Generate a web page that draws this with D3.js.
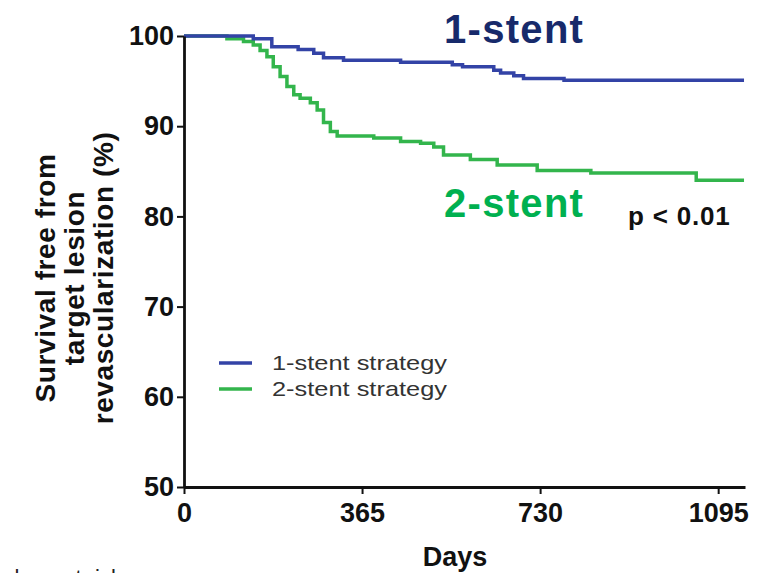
<!DOCTYPE html>
<html>
<head>
<meta charset="utf-8">
<script src="https://cdn.jsdelivr.net/npm/d3@7"></script>
<style>
	body { margin:0; background:#fff; }
	svg text { font-family: "Liberation Sans", Arial, sans-serif; }
	.tickLab { font-size:27px; font-weight:bold; fill:#111; }
</style>
</head>
<body>
<div id="chart_KM"></div>
<script>

// Kaplan-Meier steps
var daysOne = [0, 142, 180, 234, 266, 286, 327, 444, 550, 571, 635, 649, 676, 696, 779, 1148];
var survOne = [100, 99.7, 98.8, 98.5, 98.1, 97.6, 97.3, 97.1, 96.8, 96.6, 96.2, 95.9, 95.6, 95.3, 95.1, 95.1];

var daysTwo = [0, 88, 122, 142, 156, 170, 183, 197, 211, 225, 238, 259, 273, 286, 300, 314, 389, 444, 485, 512, 532, 587, 642, 724, 834, 1050, 1148];
var survTwo = [100, 99.7, 99.4, 99.0, 98.4, 97.7, 96.6, 95.5, 94.4, 93.5, 93.1, 92.6, 91.8, 90.4, 89.4, 88.9, 88.7, 88.3, 88.1, 87.7, 86.8, 86.3, 85.7, 85.1, 84.8, 84.0, 84.0];

var xTicks = [0, 365, 730, 1095];
var yTicks = [50, 60, 70, 80, 90, 100];
var seriesNames = ["1-stent strategy", "2-stent strategy"];

var overallwidth = 761, overallheight = 573;
var oneColor = "#3343a6", twoColor = "#33b54c";

var xKM = d3.scaleLinear().domain([0, 1150]).range([184, 745]);
var yKM = d3.scaleLinear().domain([50, 100]).range([487, 36]);

var svg = d3.select("#chart_KM")
	.append("svg")
	.attr("width", overallwidth)
	.attr("height", overallheight)
	.append("g")
	.attr("class", "compChart");

function toPoints(days, surv){
	return days.map(function(d, i){ return {day: d, value: surv[i]}; });
}

var line = d3.line()
	.curve(d3.curveStepAfter)
	.x(function(d){ return xKM(d.day); })
	.y(function(d){ return yKM(d.value); });

// curves
svg.append("path")
	.datum(toPoints(daysTwo, survTwo))
	.attr("d", line)
	.style("fill", "none")
	.style("stroke", twoColor)
	.style("stroke-width", "3.5px");

svg.append("path")
	.datum(toPoints(daysOne, survOne))
	.attr("d", line)
	.style("fill", "none")
	.style("stroke", oneColor)
	.style("stroke-width", "3.5px");

// axes
var yAxis = svg.append("g")
	.attr("transform", "translate(" + xKM(0) + ",0)")
	.call(d3.axisLeft(yKM).tickValues(yTicks).tickSize(7).tickSizeOuter(0).tickPadding(3));

var xAxis = svg.append("g")
	.attr("transform", "translate(0," + yKM(50) + ")")
	.call(d3.axisBottom(xKM).tickValues(xTicks).tickSize(7).tickSizeOuter(0).tickPadding(9).tickFormat(d3.format("d")));

[xAxis, yAxis].forEach(function(a){
	a.select(".domain").style("stroke", "#111").style("stroke-width", "2.8px");
	a.selectAll(".tick line").style("stroke", "#111").style("stroke-width", "2px");
	a.selectAll(".tick text").attr("class", "tickLab").style("font-family", null).style("font-size", null);
});

svg.append("text")
	.attr("x", 455).attr("y", 566)
	.style("text-anchor", "middle")
	.style("font-size", "27px").style("font-weight", "bold").style("fill", "#111")
	.text("Days");

// y title, three lines
var yTitle = ["Survival free from", "target lesion", "revascularization (%)"];
var yTitleX = [55, 84, 113];
yTitle.forEach(function(t, i){
	svg.append("text")
		.attr("transform", "translate(" + yTitleX[i] + ",278) rotate(-90)")
		.style("text-anchor", "middle")
		.style("font-size", "28px").style("font-weight", "bold").style("fill", "#111")
		.style("letter-spacing", "0.6px")
		.text(t);
});

// annotations
svg.append("text")
	.attr("x", 444).attr("y", 43)
	.style("font-size", "40px").style("font-weight", "bold").style("fill", "#172a6b")
	.style("letter-spacing", "1.3px")
	.text("1-stent");

svg.append("text")
	.attr("x", 444).attr("y", 217)
	.style("font-size", "40px").style("font-weight", "bold").style("fill", "#00b050")
	.style("letter-spacing", "1.3px")
	.text("2-stent");

svg.append("text")
	.attr("x", 628).attr("y", 225)
	.style("font-size", "26px").style("font-weight", "bold").style("fill", "#111")
	.style("letter-spacing", "0.8px")
	.text("p < 0.01");

// legend
var legendY = [363, 389];
var legendCol = [oneColor, twoColor];
seriesNames.forEach(function(n, i){
	svg.append("line")
		.attr("x1", 219).attr("x2", 252)
		.attr("y1", legendY[i]).attr("y2", legendY[i])
		.style("stroke", legendCol[i])
		.style("stroke-width", "3.5px");
	svg.append("text")
		.attr("x", 272).attr("y", legendY[i] + 6.5)
		.attr("textLength", 175)
		.attr("lengthAdjust", "spacingAndGlyphs")
		.style("font-size", "21px").style("fill", "#333")
		.text(n);
});

// cut-off caption at the very bottom
svg.append("text")
	.attr("x", 122).attr("y", 585)
	.style("text-anchor", "end")
	.style("font-size", "22px").style("fill", "#222")
	.text("Numbers at risk");

</script>
</body>
</html>
